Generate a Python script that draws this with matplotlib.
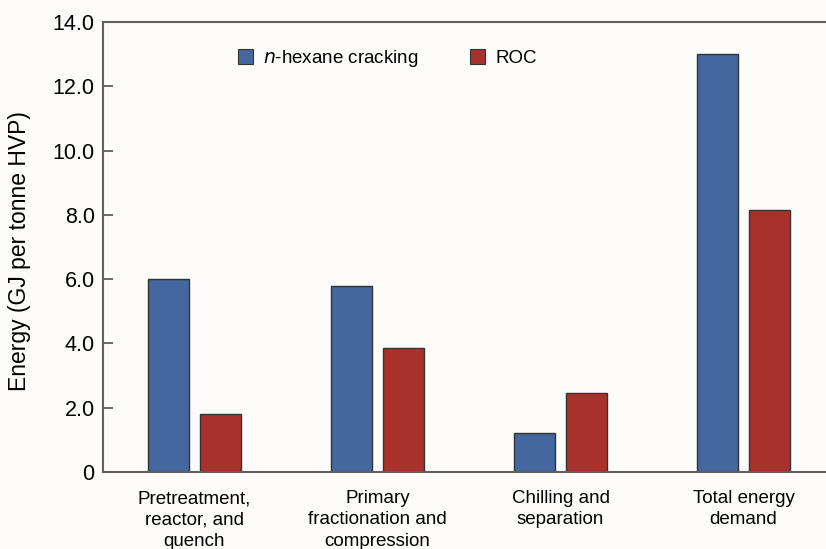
import matplotlib
matplotlib.use("Agg")
import matplotlib.pyplot as plt
import numpy as np
from matplotlib.patches import Patch

plt.rcParams['font.family'] = ['Liberation Sans', 'DejaVu Sans']

categories = ["Pretreatment,\nreactor, and\nquench",
              "Primary\nfractionation and\ncompression",
              "Chilling and\nseparation",
              "Total energy\ndemand"]
hexane = [6.0, 5.8, 1.2, 13.0]
roc = [1.8, 3.85, 2.45, 8.15]
yticks = [0, 2, 4, 6, 8, 10, 12, 14]
yticklabels = ["0", "2.0", "4.0", "6.0", "8.0", "10.0", "12.0", "14.0"]

blue = "#44679F"
red = "#A8322B"
bg = "#FDFCFA"

fig = plt.figure(figsize=(8.26, 5.49), dpi=100, facecolor=bg)
ax = fig.add_axes([103/826, 1-472/549, 732/826, 450/549], facecolor=bg)

x = np.arange(len(categories))
off = 0.142
w = 0.224
ax.bar(x - off, hexane, w, color=blue, edgecolor="#333333", linewidth=1.0)
ax.bar(x + off, roc, w, color=red, edgecolor="#333333", linewidth=1.0)

ax.set_xlim(-0.5, 3.5)
ax.set_ylim(0, 14)
ax.set_yticks(yticks)
ax.set_yticklabels(yticklabels, fontsize=15.5)
ax.set_xticks(x)
ax.set_xticklabels(categories, fontsize=13.5, linespacing=1.33)
ax.tick_params(axis='y', direction='in', length=7, width=1.2, color="#505050", pad=6)
ax.tick_params(axis='x', length=0, pad=13)
for s in ax.spines.values():
    s.set_color("#606060")
    s.set_linewidth(1.5)
ax.spines['right'].set_visible(False)

ax.set_ylabel("Energy (GJ per tonne HVP)", fontsize=16.5)
ax.yaxis.set_label_coords(-0.098, 0.491)

handles = [Patch(facecolor=blue, edgecolor="#333333", linewidth=0.8),
           Patch(facecolor=red, edgecolor="#333333", linewidth=0.8)]
ax.legend(handles, ["$\\it{n}$-hexane cracking", "ROC"], ncol=2, frameon=False,
          loc="upper left", bbox_to_anchor=(118/732, 0.98), fontsize=13.5,
          handlelength=0.8, handleheight=0.8, handletextpad=0.55, columnspacing=2.75)

fig.savefig("out.png", dpi=100, facecolor=bg)
